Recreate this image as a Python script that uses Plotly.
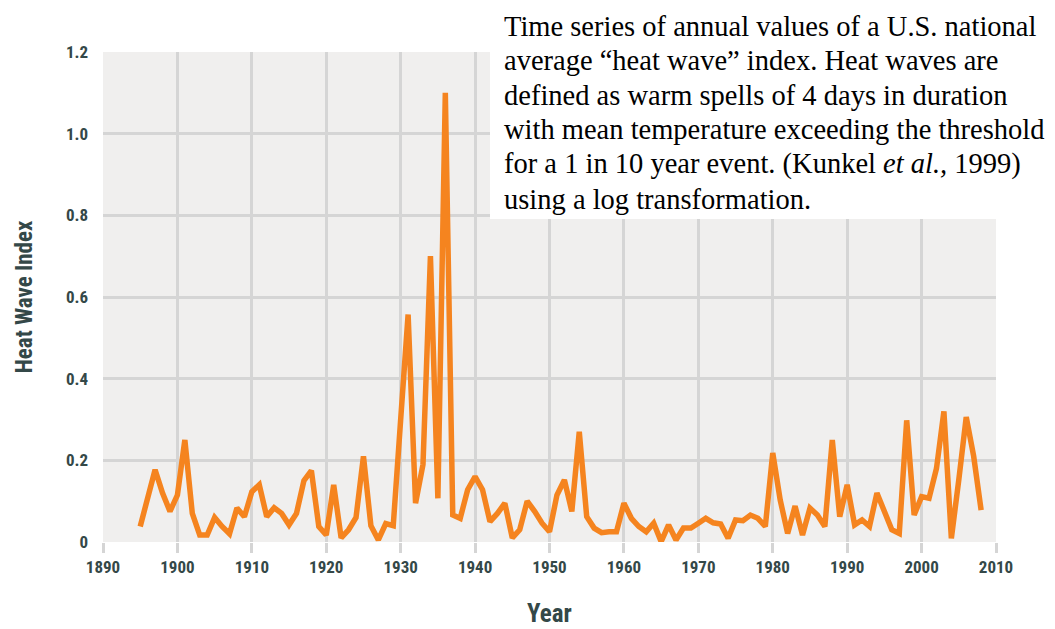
import plotly.graph_objects as go

years = list(range(1895, 2009))
heat_wave_index = [
    0.038, 0.11, 0.177, 0.12, 0.075, 0.115, 0.25, 0.07, 0.017, 0.017,   # 1895-1904
    0.06, 0.038, 0.02, 0.083, 0.062, 0.123, 0.14, 0.062, 0.084, 0.07,   # 1905-1914
    0.042, 0.07, 0.15, 0.175, 0.038, 0.017, 0.14, 0.01, 0.03, 0.06,     # 1915-1924
    0.21, 0.04, 0.005, 0.045, 0.04, 0.3, 0.557, 0.095, 0.19, 0.70,      # 1925-1934
    0.107, 1.10, 0.066, 0.058, 0.128, 0.16, 0.128, 0.05, 0.07, 0.095,   # 1935-1944
    0.01, 0.03, 0.1, 0.075, 0.046, 0.025, 0.115, 0.152, 0.075, 0.27,    # 1945-1954
    0.062, 0.034, 0.023, 0.025, 0.025, 0.095, 0.058, 0.038, 0.025, 0.046,  # 1955-1964
    0.001, 0.042, 0.005, 0.034, 0.034, 0.046, 0.058, 0.047, 0.044, 0.009,  # 1965-1974
    0.054, 0.052, 0.066, 0.058, 0.038, 0.218, 0.103, 0.021, 0.088, 0.017,  # 1975-1984
    0.083, 0.066, 0.038, 0.25, 0.062, 0.14, 0.042, 0.054, 0.038, 0.12,     # 1985-1994
    0.078, 0.03, 0.021, 0.298, 0.066, 0.111, 0.107, 0.18, 0.32, 0.009,     # 1995-2004
    0.152, 0.306, 0.21, 0.078,                                             # 2005-2008
]

x_ticks = list(range(1890, 2011, 10))
y_ticks = [0, 0.2, 0.4, 0.6, 0.8, 1.0, 1.2]
y_tick_labels = ["0", "0.2", "0.4", "0.6", "0.8", "1.0", "1.2"]

note_lines = [
    "Time series of annual values of a U.S. national",
    "average “heat wave” index. Heat waves are",
    "defined as warm spells of 4 days in duration",
    "with mean temperature exceeding the threshold",
    "for a 1 in 10 year event. (Kunkel <i>et al.,</i> 1999)",
    "using a log transformation.",
]

W, H = 1055, 629
OFF = 8  # page body margin shifts the figure by 8px
ML, MT = 103 - OFF, 52 - OFF
PW, PH = 893, 490
MR, MB = W - ML - PW, H - MT - PH

axis_font = "Roboto Condensed, Liberation Sans Narrow, DejaVu Sans Condensed, Arial Narrow, sans-serif"
axis_color = "#344848"
grid_color = "#d5d5d5"

fig = go.Figure()
fig.add_trace(go.Scatter(
    x=years, y=heat_wave_index, mode="lines",
    line=dict(color="#f5841f", width=5.5),
    hoverinfo="x+y", showlegend=False,
))

fig.update_layout(
    width=W, height=H,
    margin=dict(l=ML, r=MR, t=MT, b=MB, autoexpand=False),
    paper_bgcolor="white",
    plot_bgcolor="#f0efee",
    xaxis=dict(
        range=[1890, 2010], tickvals=x_ticks,
        showgrid=True, gridcolor=grid_color, gridwidth=3,
        zeroline=False, showline=False,
        ticks="outside", ticklen=10, tickwidth=3, tickcolor=grid_color,
        tickfont=dict(family=axis_font, size=17, color=axis_color, weight="bold"),
        title=dict(text="<b>Year</b>", font=dict(family=axis_font, size=25, color=axis_color), standoff=28),
    ),
    yaxis=dict(
        range=[0, 1.2], tickvals=y_ticks, ticktext=y_tick_labels,
        showgrid=True, gridcolor=grid_color, gridwidth=3,
        zeroline=False, showline=False,
        ticks="", ticklabelstandoff=14,
        tickfont=dict(family=axis_font, size=17, color=axis_color, weight="bold"),
        title=dict(text="<b>Heat Wave Index</b>", font=dict(family=axis_font, size=23, color=axis_color), standoff=26),
    ),
)

def px_x(px):
    return (px - OFF - ML) / PW

def px_y(py):
    return (H - MB - (py - OFF)) / PH

# white text panel covering the top-right corner
fig.add_shape(
    type="rect", xref="paper", yref="paper", layer="above",
    x0=px_x(490), x1=px_x(1080),
    y0=px_y(219), y1=px_y(-10),
    fillcolor="white", line=dict(width=0),
)

line_top = 26
line_step = 34.6
for i, txt in enumerate(note_lines):
    fig.add_annotation(
        text=txt, xref="paper", yref="paper",
        x=px_x(502), y=px_y(line_top + i * line_step),
        xanchor="left", yanchor="middle", showarrow=False,
        font=dict(family="Liberation Serif, Times New Roman, serif", size=28.5, color="black"),
    )

fig.write_html("out.html")
